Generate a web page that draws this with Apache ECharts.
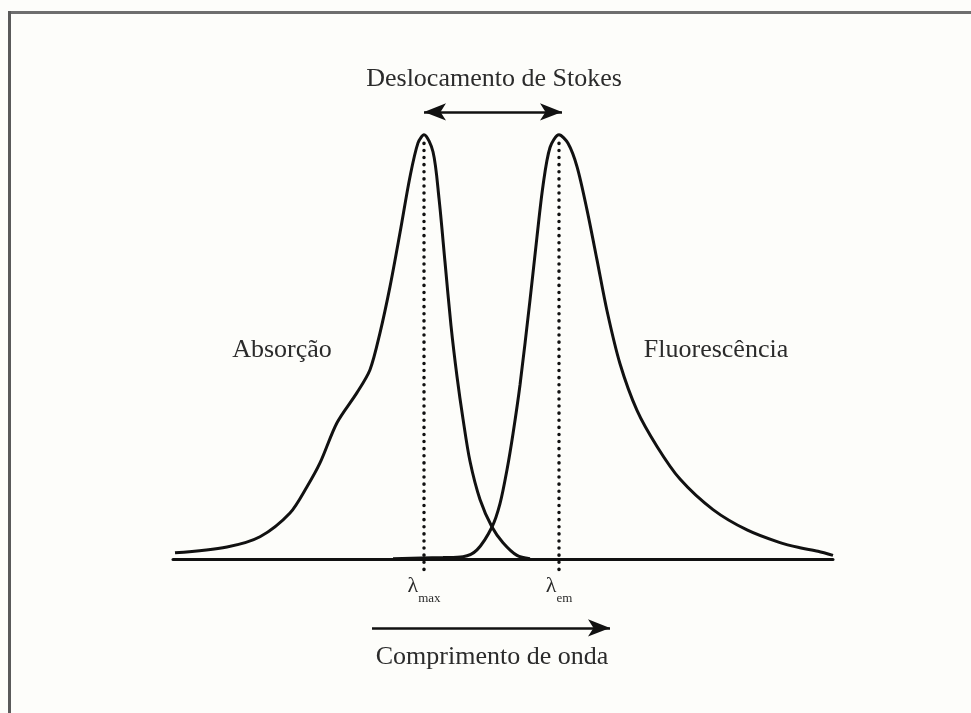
<!DOCTYPE html>
<html>
<head>
<meta charset="utf-8">
<title>Deslocamento de Stokes</title>
<script src="https://cdn.jsdelivr.net/npm/echarts@6/dist/echarts.min.js"></script>
<style>
  html, body { margin: 0; padding: 0; background: #fdfdfa; }
  #chart { width: 971px; height: 713px; }
</style>
</head>
<body>
<div id="chart"></div>
<script>
// comprimento de onda (unidades arbitrarias) e intensidade relativa (%)
var absX = [2, 54, 87, 117, 134, 147, 164, 184, 197, 207, 217, 227, 237, 245, 251, 260, 266, 272, 278, 284, 290, 297, 307, 319, 330, 344, 357]
var absY = [1.4, 2.8, 5.2, 10.8, 17.0, 22.6, 32.1, 39.2, 44.6, 53.3, 64.2, 76.9, 90.1, 98.1, 100, 96, 85, 70, 55, 43, 33, 23, 14, 7.5, 3.8, 0.8, 0]

var fluX = [220, 270, 290, 304, 319, 327, 334, 340, 347, 357, 364, 370, 377, 386, 395, 404, 414, 424, 434, 447, 464, 484, 507, 540, 574, 607, 627, 645, 660]
var fluY = [0, 0.3, 0.5, 2.1, 7.5, 13, 21, 29.5, 41, 61, 76, 88, 97, 100, 98, 92.5, 82.3, 70.5, 58.5, 46, 35, 26.5, 18.8, 11.6, 6.8, 3.8, 2.6, 1.8, 0.8]

// maximos de absorcao e emissao
var peakMax = 251
var peakEm = 386

var labels = {
  abs: 'Absorção',
  flu: 'Fluorescência',
  stokes: 'Deslocamento de Stokes',
  axis: 'Comprimento de onda'
}

function pairs (xs, ys) {
  return xs.map(function (x, i) { return [x, ys[i]] })
}

var ink = '#111'
var textColor = '#2b2b2b'
var serif = '"Liberation Serif", "DejaVu Serif", serif'

// texto solto posicionado em coordenadas do grafico
function note (coord, text, extra) {
  var item = {
    coord: coord,
    symbol: 'rect',
    symbolSize: 1,
    itemStyle: { color: 'transparent' },
    label: {
      show: true,
      position: 'inside',
      formatter: text,
      color: textColor,
      fontFamily: serif,
      fontSize: 26
    }
  }
  if (extra) Object.assign(item.label, extra)
  return item
}

var lambdaRich = {
  l: { fontSize: 22, fontFamily: serif, color: textColor, verticalAlign: 'top', lineHeight: 28 },
  s: { fontSize: 13, fontFamily: serif, color: textColor, verticalAlign: 'top', lineHeight: 28, padding: [17, 0, 0, 0] }
}

var chart = echarts.init(document.getElementById('chart'))

chart.setOption({
  animation: false,
  backgroundColor: '#fdfdfa',
  grid: { left: 173, width: 660, top: 50, height: 636 },
  xAxis: {
    type: 'value',
    min: 0,
    max: 660,
    axisLine: { show: true, onZero: true, lineStyle: { color: ink, width: 3 } },
    axisTick: { show: false },
    axisLabel: { show: false },
    splitLine: { show: false }
  },
  yAxis: {
    type: 'value',
    min: -30,
    max: 120,
    show: false
  },
  graphic: [
    { type: 'line', shape: { x1: 8, y1: 12.5, x2: 971, y2: 12.5 }, style: { stroke: '#6e6e6e', lineWidth: 3 } },
    { type: 'line', shape: { x1: 9.5, y1: 11, x2: 9.5, y2: 713 }, style: { stroke: '#5a5a5a', lineWidth: 3 } }
  ],
  series: [
    {
      name: labels.abs,
      type: 'line',
      data: pairs(absX, absY),
      smooth: 0.3,
      showSymbol: false,
      clip: false,
      lineStyle: { color: ink, width: 3 },
      markLine: {
        silent: true,
        symbol: 'none',
        label: { show: false },
        lineStyle: { color: ink, width: 3.5, type: [0.1, 7], cap: 'round' },
        data: [
          [{ coord: [peakMax, 98] }, { coord: [peakMax, -2.6] }],
          [{ coord: [peakEm, 98] }, { coord: [peakEm, -2.6] }]
        ]
      },
      markPoint: {
        silent: true,
        data: [
          note([109, 49.3], labels.abs),
          note([543, 49.3], labels.flu),
          note([321, 113.2], labels.stokes),
          note([319, -23.1], labels.axis),
          note([peakMax, -7.2], '{l|λ}{s|max}', { rich: lambdaRich }),
          note([peakEm, -7.2], '{l|λ}{s|em}', { rich: lambdaRich })
        ]
      }
    },
    {
      name: labels.flu,
      type: 'line',
      data: pairs(fluX, fluY),
      smooth: 0.3,
      showSymbol: false,
      clip: false,
      lineStyle: { color: ink, width: 3 },
      markLine: {
        silent: true,
        label: { show: false },
        lineStyle: { color: ink, width: 2.5, type: 'solid' },
        symbolSize: [13, 22],
        data: [
          // seta dupla do deslocamento de Stokes
          [{ coord: [peakMax, 105.4], symbol: 'arrow' }, { coord: [peakEm + 3, 105.4], symbol: 'arrow' }],
          // seta do eixo
          [{ coord: [199, -16.3], symbol: 'none' }, { coord: [437, -16.3], symbol: 'arrow' }]
        ]
      }
    }
  ]
})
</script>
</body>
</html>
